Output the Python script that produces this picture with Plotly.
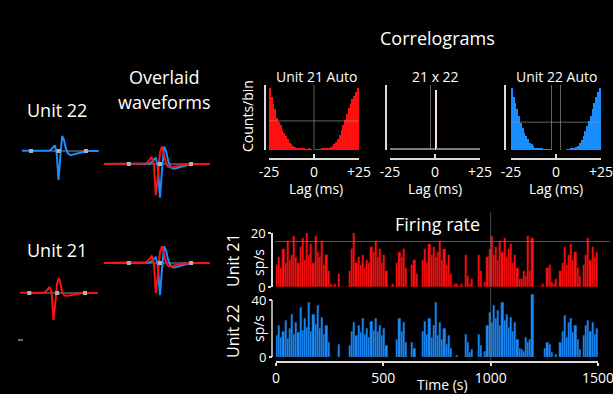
import plotly.graph_objects as go

W, H = 613, 394
FONT = "Open Sans"
RED = "#ff1010"
RED_EDGE = "#7a0000"
BLUE = "#1a8cff"
BLUE_EDGE = "#0b3560"
LINE = "#dcdcdc"
GRID = "rgba(150,150,150,0.65)"

# ---------------- data ----------------
# correlogram bin centres (ms)
lag_ms = [-24.5, -23.5, -22.5, -21.5, -20.5, -19.5, -18.5, -17.5, -16.5, -15.5,
          -14.5, -13.5, -12.5, -11.5, -10.5, -9.5, -8.5, -7.5, -6.5, -5.5,
          -4.5, -3.5, -2.5, -1.5, -0.5, 0.5, 1.5, 2.5, 3.5, 4.5,
          5.5, 6.5, 7.5, 8.5, 9.5, 10.5, 11.5, 12.5, 13.5, 14.5,
          15.5, 16.5, 17.5, 18.5, 19.5, 20.5, 21.5, 22.5, 23.5, 24.5]
lag_ticks = [-25, 0, 25]
lag_ticktext = ["-25", "0", "+25"]

auto21_counts = [100, 85, 75, 66, 52, 45, 40, 32, 28, 22,
                 17, 12, 10, 6, 5, 4, 3, 3, 2, 2,
                 1, 1, 2, 0.5, 0, 0, 1, 1, 1, 2,
                 2, 2, 3, 4, 5, 7, 9, 13, 18, 25,
                 32, 40, 48, 58, 68, 75, 82, 88, 94, 100]
cross_counts = [2, 2.2, 2, 1.8, 2, 2.1, 2, 1.9, 2, 2.2,
                2, 1.8, 2, 2.1, 1.9, 2, 2.2, 1.9, 2, 2.1,
                1.8, 2, 2.2, 2, 1.9, 97, 2, 2.1, 1.9, 2,
                2.2, 2, 1.8, 2, 2.1, 1.9, 2, 2.2, 2, 1.9,
                1.8, 2, 2.2, 2, 1.9, 2.1, 2, 1.8, 2, 2.1]
auto22_counts = [100, 86, 76, 66, 55, 44, 35, 28, 22, 17,
                 12, 9, 6, 4, 3, 2, 2, 2, 1, 1,
                 1, 0.5, 0, 0, 0, 0, 0, 0, 0, 0,
                 0, 1, 1, 2, 2, 3, 5, 7, 11, 16,
                 22, 30, 38, 47, 55, 66, 76, 85, 93, 100]
corr_top = 105
auto21_mean = 47
auto22_mean = 45
auto21_guides_ms = [0]
cross_guides_ms = [-2.5]
auto22_guides_ms = [-2.5, 2.5]

# firing rate, 10 s bins
bin_width_s = 10
rate21 = [8, 11, 7, 14, 9, 17, 10, 12, 19, 11, 9, 15, 18, 10, 20,
          12, 16, 9, 19, 13, 11, 17, 8, 12, 6, 1, 0.5, 1, 0, 5,
          0, 0, 0, 0, 6, 14, 20, 9, 11, 8, 12, 7, 10, 9, 15,
          13, 17, 11, 14, 9, 12, 6, 0, 0, 1, 0, 9, 13, 11, 14,
          7, 0, 0, 8, 10, 5, 0, 0, 10, 14, 9, 16, 12, 15, 11,
          13, 17, 10, 14, 8, 12, 5, 0.5, 1, 1, 0.5, 1, 0, 12, 4,
          1, 3, 0, 0, 12, 6, 0, 2, 11, 14, 19, 12, 15, 10, 17,
          13, 18, 11, 14, 16, 9, 12, 7, 3, 3, 6, 4, 19, 6, 18,
          0, 0, 0, 0, 1, 0, 7, 8, 2, 1, 3, 0, 6, 9, 15,
          8, 12, 16, 10, 13, 7, 4, 0, 8, 12, 18, 10, 15, 11, 13]
rate22 = [15, 22, 14, 18, 26, 13, 20, 30, 16, 24, 17, 35, 19, 27, 21,
          38, 18, 30, 23, 36, 20, 28, 16, 22, 10, 0, 0, 0, 0, 9,
          0, 0, 0, 0, 8, 18, 24, 15, 22, 17, 27, 16, 20, 14, 25,
          19, 27, 18, 22, 15, 20, 8, 0, 0, 0, 0, 12, 27, 18, 24,
          10, 0, 0, 10, 6, 0, 0, 0, 18, 25, 16, 27, 14, 22, 38,
          15, 24, 12, 20, 9, 15, 6, 0, 0, 1, 0, 0, 0, 16, 10,
          3, 5, 0, 0, 16, 8, 0, 4, 22, 31, 24, 36, 27, 33, 22,
          38, 26, 30, 21, 28, 18, 24, 12, 6, 5, 4, 14, 10, 12, 44,
          0, 0, 0, 0, 0, 6, 10, 9, 3, 0, 2, 0, 10, 18, 29,
          14, 24, 27, 17, 22, 12, 5, 0, 15, 22, 26, 18, 24, 16, 20]
time_s = [bin_width_s * (i + 0.5) for i in range(len(rate21))]
time_ticks = [0, 500, 1000, 1500]
rate21_ticks = [0, 20]
rate22_ticks = [0, 40]
rate21_ref = 16.85
time_marker_s = 1000

# mean waveforms (uV) sampled every 0.1 ms
wave_t_ms = [-2.8, -2.7, -2.6, -2.5, -2.4, -2.3, -2.2, -2.1,
             -2.0, -1.9, -1.8, -1.7, -1.6, -1.5, -1.4, -1.3, -1.2, -1.1,
             -1.0, -0.9, -0.8, -0.7, -0.6, -0.5, -0.4, -0.3, -0.2, -0.1,
             0.0, 0.1, 0.2, 0.3, 0.4, 0.5, 0.6, 0.7, 0.8, 0.9,
             1.0, 1.1, 1.2, 1.3, 1.4, 1.5, 1.6, 1.7, 1.8, 1.9,
             2.0, 2.1, 2.2, 2.3, 2.4, 2.5]
wave21_uv = [0, 0, 0, 0, 0, 0, 0, 0,
             0, 0, 0, 0, 0, 0, 0, 0, 0, 0,
             0, 0, 0, 2, 6, 14, 24, 4, -108, -40,
             40, 60, 30, 0, -10, -12, -11, -9, -7, -5,
             -4, -3, -2, -1, 0, 0, 0, 0, 0, 0,
             0, 0, 0, 0, 0, 0]
wave22_uv = [0, 0, 0, 0, 0, 0, 0, 0,
             0, 0, 0, 0, 0, 0, 0, 0, 0, 0,
             0, 0, 0, 0, 0, 2, 6, 14, 22, -10,
             -116, -20, 60, 44, 10, -8, -15, -16, -14, -11,
             -8, -6, -4, -3, -2, -1, 0, 0, 0, 0,
             0, 0, 0, 0, 0, 0]
wave_marker_ms = [-1.5, 0.0, 1.5]
wave_baseline_uv = 0


# ---------------- helpers ----------------
def px_x(x):
    return x / W


def px_y(y):
    return 1 - y / H


def dom_x(a, b):
    return [px_x(a), px_x(b)]


def dom_y(top, bottom):
    return [px_y(bottom), px_y(top)]


fig = go.Figure()

# correlograms
fig.add_trace(go.Bar(x=lag_ms, y=auto21_counts, marker=dict(color=RED, line=dict(width=0)),
                     xaxis="x", yaxis="y"))
cross_colors = ["#f2dede" if v > 50 else "#7a7a7a" for v in cross_counts]
fig.add_trace(go.Bar(x=lag_ms, y=cross_counts, marker=dict(color=cross_colors, line=dict(width=0)),
                     xaxis="x2", yaxis="y2"))
fig.add_trace(go.Bar(x=lag_ms, y=auto22_counts, marker=dict(color=BLUE, line=dict(width=0)),
                     xaxis="x3", yaxis="y3"))


# correlogram guide lines drawn as line traces on top of the bars
def add_guides(xa, ya, vlines, hline=None):
    for g in vlines:
        fig.add_trace(go.Scatter(x=[g, g], y=[0, corr_top], mode="lines",
                                 line=dict(color=GRID, width=1), xaxis=xa, yaxis=ya,
                                 hoverinfo="skip"))
    if hline is not None:
        fig.add_trace(go.Scatter(x=[lag_ticks[0], lag_ticks[-1]], y=[hline, hline], mode="lines",
                                 line=dict(color=GRID, width=1), xaxis=xa, yaxis=ya,
                                 hoverinfo="skip"))


add_guides("x", "y", auto21_guides_ms, auto21_mean)
add_guides("x2", "y2", cross_guides_ms)
add_guides("x3", "y3", auto22_guides_ms, auto22_mean)

# firing rate
fig.add_trace(go.Bar(x=time_s, y=rate21, marker=dict(color=RED, line=dict(color=RED_EDGE, width=0.4)),
                     xaxis="x4", yaxis="y4"))
fig.add_trace(go.Bar(x=time_s, y=rate22, marker=dict(color=BLUE, line=dict(color=BLUE_EDGE, width=0.4)),
                     xaxis="x5", yaxis="y5"))


# waveforms
def add_wave(ax, waves):
    xa, ya = "x" + str(ax), "y" + str(ax)
    fig.add_trace(go.Scatter(x=[wave_marker_ms[0], wave_marker_ms[-1]],
                             y=[wave_baseline_uv, wave_baseline_uv], mode="lines",
                             line=dict(color="#909090", width=1), xaxis=xa, yaxis=ya,
                             hoverinfo="skip"))
    for w, c in waves:
        fig.add_trace(go.Scatter(x=wave_t_ms, y=w, mode="lines", line=dict(color=c, width=2),
                                 xaxis=xa, yaxis=ya))
    fig.add_trace(go.Scatter(x=wave_marker_ms, y=[wave_baseline_uv] * len(wave_marker_ms),
                             mode="markers", marker=dict(symbol="square", size=4, color="#b0b0b0"),
                             xaxis=xa, yaxis=ya))


add_wave(6, [(wave22_uv, BLUE)])
add_wave(7, [(wave22_uv, BLUE), (wave21_uv, RED)])
add_wave(8, [(wave21_uv, RED)])
add_wave(9, [(wave22_uv, BLUE), (wave21_uv, RED)])

# ---------------- axes ----------------
tickfont = dict(size=14, color="white", family=FONT)
tickfont_rate = dict(size=13, color="white", family=FONT)


def corr_axes(n, x0, x1, yaxis_x):
    sx = "" if n == 1 else str(n)
    return {
        "xaxis" + sx: dict(domain=dom_x(x0, x1), range=[-25, 25], anchor="free", position=px_y(159),
                           showline=True, linecolor=LINE, linewidth=1.5, ticks="inside", ticklen=4,
                           tickwidth=1.5, tickcolor=LINE, tickvals=lag_ticks, ticktext=lag_ticktext,
                           tickfont=tickfont, showgrid=False, zeroline=False, automargin=False,
                           ticklabeloverflow="allow"),
        "yaxis" + sx: dict(domain=dom_y(85, 150), range=[0, corr_top], anchor="free",
                           position=px_x(yaxis_x),
                           showline=True, linecolor=LINE, linewidth=1.5, ticks="inside", ticklen=4,
                           tickwidth=1.5, tickcolor=LINE, tickvals=[0], showticklabels=False,
                           showgrid=False, zeroline=False, automargin=False),
    }


layout_axes = {}
layout_axes.update(corr_axes(1, 269, 359, 265))
layout_axes.update(corr_axes(2, 390, 480, 386))
layout_axes.update(corr_axes(3, 511, 601, 505))

hidden = dict(visible=False, showgrid=False, zeroline=False, automargin=False)
layout_axes["xaxis4"] = dict(hidden, domain=dom_x(276, 598), range=[0, 1500], anchor="y4")
layout_axes["yaxis4"] = dict(domain=dom_y(233, 287), range=[0, 20], anchor="free", position=px_x(272),
                             showline=True, linecolor=LINE, linewidth=1.5, ticks="outside", ticklen=3,
                             tickwidth=1.5, tickcolor=LINE, tickvals=rate21_ticks, tickfont=tickfont_rate,
                             showgrid=False, zeroline=False, automargin=False, ticklabeloverflow="allow")
layout_axes["xaxis5"] = dict(domain=dom_x(276, 598), range=[0, 1500], anchor="free", position=px_y(362),
                             showline=True, linecolor=LINE, linewidth=1.5, ticks="outside", ticklen=3,
                             tickwidth=1.5, tickcolor=LINE, tickvals=time_ticks, tickfont=tickfont,
                             showgrid=False, zeroline=False, automargin=False, ticklabeloverflow="allow")
layout_axes["yaxis5"] = dict(domain=dom_y(291.4, 357), range=[0, 46], anchor="free", position=px_x(272),
                             showline=False, ticks="outside", ticklen=3, tickwidth=1.5, tickcolor=LINE,
                             tickvals=rate22_ticks, tickfont=tickfont_rate, showgrid=False, zeroline=False,
                             automargin=False, ticklabeloverflow="allow")

wave_panels = {
    6: (dom_x(21.9, 98.8), [-2.0, 2.2], dom_y(130, 185), [-136, 84]),
    7: (dom_x(104, 209.7), [-2.7, 2.4], dom_y(140, 200), [-124.2, 82.8]),
    8: (dom_x(20, 98), [-2.0, 2.2], dom_y(270, 327), [-136, 92]),
    9: (dom_x(104, 209.7), [-2.7, 2.4], dom_y(240, 300), [-133.2, 82.8]),
}
for n, (dx, rx, dy, ry) in wave_panels.items():
    layout_axes["xaxis" + str(n)] = dict(hidden, domain=dx, range=rx, anchor="y" + str(n))
    layout_axes["yaxis" + str(n)] = dict(hidden, domain=dy, range=ry, anchor="x" + str(n))

# ---------------- shapes ----------------
shapes = [
    dict(type="line", xref="paper", yref="paper", x0=px_x(18), x1=px_x(23), y0=px_y(340), y1=px_y(340),
         line=dict(color="#6a6a6a", width=2)),
    dict(type="line", xref="paper", yref="y4", x0=px_x(275), x1=px_x(610),
         y0=rate21_ref, y1=rate21_ref, line=dict(color="rgba(120,120,120,0.7)", width=1)),
    dict(type="line", xref="x5", yref="paper", x0=time_marker_s, x1=time_marker_s,
         y0=px_y(362), y1=px_y(212), line=dict(color="rgba(120,120,120,0.6)", width=1)),
    dict(type="line", xref="paper", yref="y5", x0=px_x(272), x1=px_x(272),
         y0=rate22_ticks[0], y1=rate22_ticks[-1], line=dict(color=LINE, width=1.5)),
]


# ---------------- text ----------------
def txt(x, y, s, size, angle=0):
    return dict(x=px_x(x), y=px_y(y), xref="paper", yref="paper", text=s, showarrow=False,
                font=dict(size=size, color="white", family=FONT), xanchor="center",
                yanchor="middle", textangle=angle)


annotations = [
    txt(437, 38, "Correlograms", 18),
    txt(316, 76, "Unit 21 Auto", 14),
    txt(435, 77, "21 x 22", 14),
    txt(556, 77, "Unit 22 Auto", 14),
    txt(247, 116, "Counts/bin", 14, -90),
    txt(316, 188, "Lag (ms)", 14),
    txt(435, 188, "Lag (ms)", 14),
    txt(556, 188, "Lag (ms)", 14),
    txt(437, 224, "Firing rate", 18),
    txt(233, 260, "Unit 21", 16, -90),
    txt(258, 263, "sp/s", 14, -90),
    txt(233, 331, "Unit 22", 16, -90),
    txt(258, 329, "sp/s", 14, -90),
    txt(442, 384, "Time (s)", 14),
    txt(57, 110, "Unit 22", 18),
    txt(164, 77, "Overlaid", 18),
    txt(164, 102, "waveforms", 18),
    txt(57, 250, "Unit 21", 18),
]

fig.update_layout(
    width=W, height=H,
    margin=dict(l=0, r=0, t=0, b=0, pad=0, autoexpand=False),
    paper_bgcolor="black",
    plot_bgcolor="rgba(0,0,0,0)",
    showlegend=False,
    bargap=0,
    font=dict(family=FONT, color="white"),
    shapes=shapes,
    annotations=annotations,
    **layout_axes,
)

fig.write_html(
    "out.html",
    config={"displayModeBar": False},
    post_script="document.body.style.margin='0';document.body.style.overflow='hidden';",
)
